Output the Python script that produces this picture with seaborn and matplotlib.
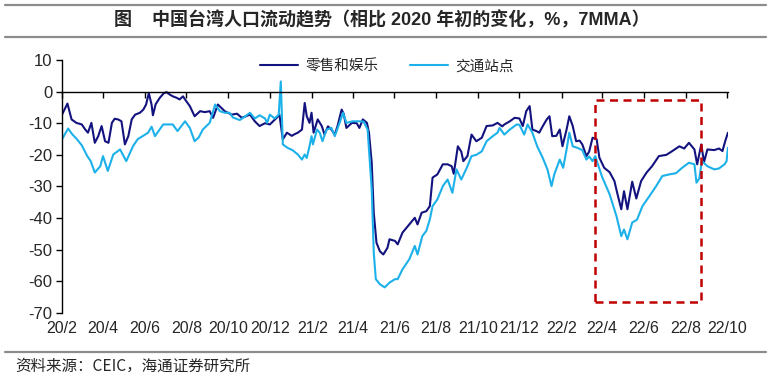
import numpy as np
import pandas as pd
import matplotlib
matplotlib.use("Agg")
import matplotlib.pyplot as plt
import matplotlib.dates as mdates
from matplotlib.patches import Rectangle
from matplotlib.lines import Line2D
import seaborn as sns

# ---------------- data ----------------
start_date = "2020-02-15"
series_names = ["零售和娱乐", "交通站点"]

retail_day = [0, 8, 14, 21, 29, 34, 38, 43, 48, 53, 58, 63, 68, 73, 77, 82, 87, 92, 97, 102,
              107, 114, 119, 123, 127, 131, 133, 137, 143, 149, 153, 158, 162, 168, 172, 177, 180,
              187, 194, 202, 209, 216, 221, 228, 238, 248, 256, 263, 275, 282, 289, 297, 304, 314,
              318, 323, 329, 336, 340, 345, 351, 355, 358, 362, 365, 368, 374, 380, 384, 389, 394,
              399, 403, 409, 412, 416, 424, 431, 435, 440, 446, 449, 453, 456, 460, 465, 470, 476,
              479, 487, 491, 498, 508, 516, 520, 526, 533, 538, 542, 549, 557, 564, 570, 573, 579,
              584, 587, 593, 599, 606, 614, 621, 630, 637, 644, 647, 655, 662, 669, 674, 679, 684,
              688, 694, 698, 703, 709, 713, 717, 723, 728, 732, 738, 742, 747, 752, 757, 761, 767,
              771, 776, 782, 786, 793, 801, 808, 812, 818, 822, 827, 834, 840, 847, 855, 863, 873,
              884, 892, 903, 910, 917, 925, 929, 935, 939, 944, 954, 961, 966, 970, 974]
retail_val = [-7.3, -3.8, -8.8, -9.9, -10.4, -12, -13, -9.9, -16.2, -14.1, -10.9, -15.7, -16.2, -9.9,
              -8.6, -8.8, -9.4, -16.7, -14.1, -8.8, -7.3, -6.7, -5.7, -4.1, -0.5, -4.1, -7.5, -4, -2,
              -0.5, -0.2, -1, -1.5, -2, -2.5, -1.5, -2.5, -4.6, -7.8, -6.2, -6.5, -6.2, -8.3, -4.1,
              -6.2, -7.3, -7, -8.3, -7.3, -9.4, -10.9, -10, -10.4, -8.3, -7.3, -15.1, -13, -14,
              -13.5, -13, -12, -3.6, -7.8, -9.9, -6.7, -13, -8.8, -10.9, -13.6, -11, -12, -13.6,
              -10.9, -5.7, -7, -11.5, -9.9, -10, -11.5, -8.8, -9.9, -13, -22.5, -38.3, -47.8, -50.5,
              -51.5, -49.4, -46.7, -47.2, -48.3, -44.6, -42, -39.9, -42, -38.3, -37.8, -36.2, -27.2,
              -26.2, -23, -23, -23.6, -26, -17.3, -19, -22, -20.4, -13.6, -15.7, -14.6, -10.9,
              -10.7, -9.9, -11, -10.4, -9.4, -8.3, -8.5, -10.9, -6.2, -4.6, -12, -12.5, -13, -11,
              -8.8, -7.8, -14.1, -14, -12, -17.3, -12, -7.8, -10.9, -15.7, -15.5, -16.7, -20.4, -19,
              -14.6, -15.1, -20.9, -24.1, -25.5, -28.3, -32, -37.2, -31.5, -37.2, -28.5, -33.8,
              -28.3, -25.6, -23.6, -20.4, -20, -18.9, -17.3, -18, -16.2, -18.3, -23, -16.7, -22.3,
              -18.3, -18.5, -18, -18.8, -15.7, -13]

transit_day = [0, 9, 15, 22, 29, 37, 42, 48, 56, 60, 67, 75, 85, 94, 104, 111, 118, 126, 131, 136,
               148, 162, 169, 180, 187, 194, 200, 206, 216, 224, 231, 238, 245, 250, 260, 267, 275,
               282, 289, 297, 300, 304, 311, 317, 320, 323, 330, 337, 345, 351, 355, 358, 362, 365,
               367, 373, 377, 381, 387, 394, 399, 406, 411, 416, 425, 435, 441, 447, 453, 456, 459,
               465, 472, 479, 487, 491, 498, 508, 516, 520, 527, 533, 538, 542, 549, 557, 564, 571,
               577, 584, 592, 599, 606, 614, 621, 630, 637, 640, 647, 655, 665, 669, 676, 681, 688,
               695, 703, 710, 716, 720, 728, 733, 738, 742, 747, 754, 761, 767, 771, 776, 780, 783,
               790, 801, 811, 818, 822, 827, 834, 841, 849, 859, 869, 878, 888, 898, 907, 917, 925,
               928, 932, 936, 944, 954, 961, 969, 972, 974]
transit_val = [-15.1, -11.7, -13.5, -15.1, -17, -20.4, -22, -25.6, -23.6, -20.4, -25.1, -19.9, -18.3,
               -22, -17.2, -15, -14.1, -13, -11.1, -14.1, -10.4, -10.4, -12.5, -9.4, -11.5, -15.7,
               -14.5, -12, -9.9, -4.1, -6.2, -6.7, -6.7, -8.2, -9, -8, -6.7, -8.5, -7.5, -8.5, -9.9,
               -7.3, -8.5, -7.3, 3.2, -16.7, -17.8, -18.5, -19.9, -21.5, -19.9, -21, -17.3, -14.1,
               -16.7, -12, -13, -15.7, -12, -11.5, -14.1, -9.9, -6.7, -9.9, -9.4, -9.4, -9.5, -12,
               -30.9, -50.9, -59.3, -60.9, -61.9, -60.4, -59.3, -59.3, -56.2, -53, -48.8, -51.5,
               -45.7, -44, -40.4, -36.2, -34.1, -29.9, -27.8, -32, -24.6, -27.8, -24.1, -20.4, -20,
               -18.9, -15.7, -14.1, -13, -11.5, -13.6, -12, -10.4, -10.5, -13.6, -10.4, -13, -17.3,
               -20.9, -24.6, -29.9, -26.2, -21.5, -24.1, -18.3, -13, -17.3, -17.8, -18.5, -21.5,
               -20.5, -22, -20.4, -22.5, -27, -32.5, -39.4, -45.7, -43.6, -46.7, -41.4, -40.5, -36.2,
               -33.1, -29.9, -26.7, -26.2, -25.8, -24.1, -22.5, -23, -28.8, -27.5, -22, -23.6, -24.6,
               -24.3, -23, -22, -17.8]

tick_dates = ["2020-02-15", "2020-04-15", "2020-06-15", "2020-08-15", "2020-10-15", "2020-12-15",
              "2021-02-15", "2021-04-15", "2021-06-15", "2021-08-15", "2021-10-15", "2021-12-15",
              "2022-02-15", "2022-04-15", "2022-06-15", "2022-08-15", "2022-10-15"]
tick_labels = ["20/2", "20/4", "20/6", "20/8", "20/10", "20/12", "21/2", "21/4", "21/6", "21/8",
               "21/10", "21/12", "22/2", "22/4", "22/6", "22/8", "22/10"]
y_ticks = [10, 0, -10, -20, -30, -40, -50, -60, -70]

box_dates = ["2022-04-04", "2022-09-07"]
box_vals = [-2.8, -66.4]

title_text = "图    中国台湾人口流动趋势（相比 2020 年初的变化，%，7MMA）"
source_text = "资料来源：CEIC，海通证券研究所"

# ---------------- build frame ----------------
t0 = pd.Timestamp(start_date)
df = pd.concat([
    pd.DataFrame({"date": t0 + pd.to_timedelta(retail_day, unit="D"),
                  "value": retail_val, "series": series_names[0]}),
    pd.DataFrame({"date": t0 + pd.to_timedelta(transit_day, unit="D"),
                  "value": transit_val, "series": series_names[1]}),
], ignore_index=True)

# ---------------- style ----------------
sns.set_style("white")
plt.rcParams["font.family"] = ["Liberation Sans", "Noto Sans CJK SC", "DejaVu Sans"]
plt.rcParams["axes.unicode_minus"] = False

dark = "#13137F"
light = "#1DB1EA"

fig = plt.figure(figsize=(7.69, 3.80), dpi=100)
ax = fig.add_axes([0.0806, 0.1763, 0.866, 0.666])

sns.lineplot(data=df, x="date", y="value", hue="series", hue_order=series_names,
             palette=[dark, light], estimator=None, linewidth=1.5, ax=ax, legend=True)

t_end = pd.Timestamp(tick_dates[-1]) + pd.Timedelta(days=1)
ax.set_xlim(t0, t_end)
ax.set_ylim(-70, 10)
ax.set_xlabel("")
ax.set_ylabel("")

# spines
ax.spines["top"].set_visible(False)
ax.spines["right"].set_visible(False)
ax.spines["bottom"].set_position(("data", 0))
for s in ["left", "bottom"]:
    ax.spines[s].set_color("black")
    ax.spines[s].set_linewidth(1.0)

tick_pos = pd.to_datetime(tick_dates)
ax.set_xticks(tick_pos)
ax.set_xticklabels([""] * len(tick_pos))
ax.tick_params(axis="x", direction="out", length=4, width=1, color="black", bottom=True)
ax.set_yticks(y_ticks)
ax.set_yticklabels([str(v) for v in y_ticks])
ax.tick_params(axis="y", direction="out", length=4, width=1, color="black", left=True,
               labelsize=12, pad=3)

sec = ax.secondary_xaxis("bottom")
sec.set_xticks(tick_pos)
sec.set_xticklabels(tick_labels)
sec.tick_params(axis="x", length=0, labelsize=11.5, pad=6)
sec.spines["bottom"].set_visible(False)

# red dashed box
bx0 = mdates.date2num(pd.Timestamp(box_dates[0]))
bx1 = mdates.date2num(pd.Timestamp(box_dates[1]))
rect = Rectangle((bx0, box_vals[1]), bx1 - bx0, box_vals[0] - box_vals[1], fill=False,
                 edgecolor="#C00000", linewidth=1.8, linestyle=(0, (3.2, 2.2)), zorder=5)
ax.add_patch(rect)

# legend
handles, labels = ax.get_legend_handles_labels()
leg = ax.legend(handles, labels, loc="center", bbox_to_anchor=(0.488, 0.975), ncol=2,
                frameon=False, handlelength=2.6, columnspacing=2.2, handletextpad=0.5,
                prop={"family": ["Noto Sans CJK SC"], "size": 10.5})

# title, rules, source
fig.text(0.497, 0.947, title_text, ha="center", va="center", fontsize=13, fontweight="bold",
         family=["Liberation Sans", "Noto Sans CJK SC"])
for yy in [0.987, 0.903, 0.074]:
    fig.add_artist(Line2D([0.006, 0.996], [yy, yy], transform=fig.transFigure,
                          color="#8C8C8C", linewidth=1.6))
fig.text(0.02, 0.035, source_text, ha="left", va="center", fontsize=11.2,
         family=["Noto Sans CJK SC", "Liberation Sans"])

fig.savefig("out.png", dpi=100)
